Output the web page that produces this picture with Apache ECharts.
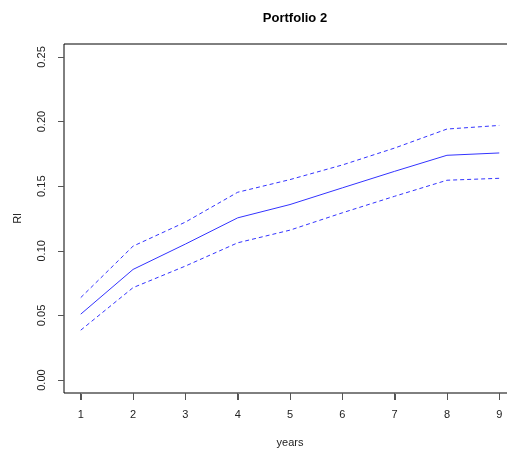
<!DOCTYPE html>
<html><head><meta charset="utf-8">
<script src="https://cdn.jsdelivr.net/npm/echarts@6/dist/echarts.min.js"></script>
<style>html,body{margin:0;padding:0;background:#fff}#c{width:507px;height:451px}</style>
</head><body><div id="c"></div>
<script>
const years = [1, 2, 3, 4, 5, 6, 7, 8, 9];
const mean = [0.051, 0.0856, 0.1052, 0.1255, 0.1358, 0.1487, 0.1615, 0.1739, 0.1757];
const upper = [0.0638, 0.1036, 0.1222, 0.1453, 0.1551, 0.1664, 0.1795, 0.1942, 0.197];
const lower = [0.0386, 0.0715, 0.0882, 0.1062, 0.116, 0.1294, 0.1422, 0.1546, 0.1561];
const xTicks = [1, 2, 3, 4, 5, 6, 7, 8, 9];
const yTicks = [0, 0.05, 0.10, 0.15, 0.20, 0.25];

const pairs = a => years.map((x, i) => [x, a[i]]);
const font = 'Liberation Sans, Arial, sans-serif';
const yMin = -0.01, yMax = 0.26;
const chart = echarts.init(document.getElementById('c'), null, {renderer: 'canvas'});
chart.setOption({
  animation: false,
  title: {text: 'Portfolio 2', left: 290, top: 7, textAlign: 'center',
    textStyle: {fontFamily: font, fontWeight: 'bold', fontSize: 13, color: '#000'}},
  grid: {left: 64, top: 44, width: 452, height: 349, show: true, borderColor: '#000', borderWidth: 1,
    containLabel: false, outerBoundsMode: 'none'},
  xAxis: {type: 'value', min: 0.68, max: 9.32,
    name: 'years', nameLocation: 'middle', nameGap: 44,
    nameTextStyle: {fontFamily: font, fontSize: 11, color: '#222'},
    axisLine: {show: false, onZero: false}, splitLine: {show: false},
    axisTick: {show: true, inside: false, length: 7, customValues: xTicks, lineStyle: {color: '#555', width: 1}},
    axisLabel: {customValues: xTicks, margin: 16, fontFamily: font, fontSize: 11, color: '#222'}},
  yAxis: {type: 'value', min: yMin, max: yMax,
    name: 'Rl', nameLocation: 'middle', nameGap: 41, nameRotate: 90,
    nameTextStyle: {fontFamily: font, fontSize: 11, color: '#222'},
    axisLine: {show: false, onZero: false}, splitLine: {show: false},
    axisTick: {show: true, length: 6, customValues: yTicks, lineStyle: {color: '#555', width: 1}},
    axisLabel: {customValues: yTicks, rotate: 90, margin: 17, fontFamily: font, fontSize: 11, color: '#222',
      formatter: v => v.toFixed(2)}},
  series: [
    {type: 'line', data: pairs(mean), symbol: 'none', lineStyle: {color: '#3333ff', width: 1}},
    {type: 'line', data: pairs(upper), symbol: 'none', lineStyle: {color: '#3333ff', width: 1, type: [4, 3]}},
    {type: 'line', data: pairs(lower), symbol: 'none', lineStyle: {color: '#3333ff', width: 1, type: [4, 3]}}
  ]
});
// x-axis tick marks placed through the chart's own scale
const tickEls = xTicks.map(v => {
  const p = chart.convertToPixel({gridIndex: 0}, [v, yMin]);
  const x = Math.round(p[0]) + 0.5, y = Math.round(p[1]) + 1;
  return {type: 'line', z: 100, silent: true,
    shape: {x1: x, y1: y, x2: x, y2: y + 6}, style: {stroke: '#555', lineWidth: 1}};
});
chart.setOption({graphic: tickEls});
</script></body></html>
